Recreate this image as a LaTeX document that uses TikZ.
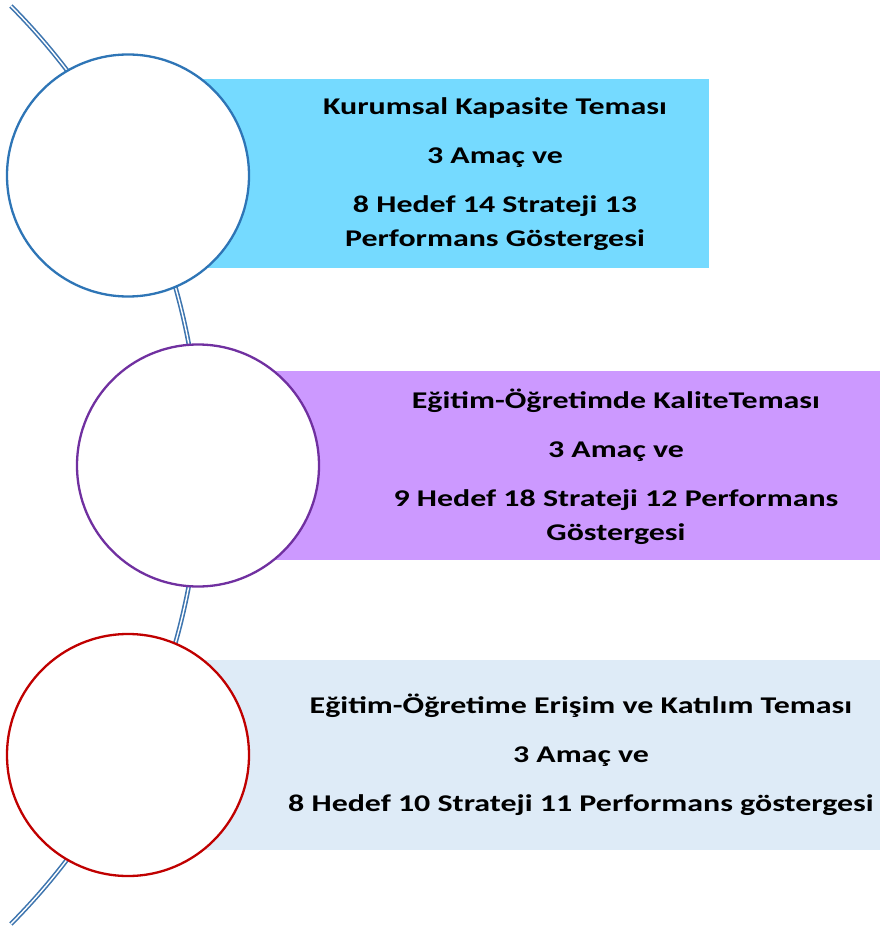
\documentclass[tikz,border=0pt]{standalone}
\usepackage{fontspec}
\setmainfont{Carlito}[FakeStretch=1.33]
\definecolor{arcblue}{RGB}{62,117,175}
\definecolor{cblue}{RGB}{46,117,182}
\definecolor{cpurple}{RGB}{112,48,160}
\definecolor{cred}{RGB}{192,0,0}
\definecolor{fillA}{RGB}{117,218,255}
\definecolor{fillB}{RGB}{204,153,255}
\definecolor{fillC}{RGB}{222,235,247}
\tikzset{
  disc/.style={circle, fill=white, line width=2.3pt, minimum size=242pt, inner sep=0pt},
  label/.style={align=center, font=\bfseries\fontsize{24}{34}\selectfont, text=black, inner sep=0pt},
  spine/.style={draw=arcblue, line width=1.6pt, double=white, double distance=1.4pt}
}
\begin{document}
\begin{tikzpicture}[x=1pt,y=-1pt]
\useasboundingbox (0,0) rectangle (880,928);
\fill[fillA] (200,79) rectangle (709,268);
\fill[fillB] (270,371) rectangle (880,560);
\fill[fillC] (200,660) rectangle (880,850);
\coordinate (ac) at (-451.4,465);
\draw[spine] (ac) ++(-44.8:651.5) arc[start angle=-44.8, end angle=44.8, radius=651.5];
\node[disc, draw=cblue] (c1) at (128,175.5) {};
\node[disc, draw=cpurple] (c2) at (198,465.5) {};
\node[disc, draw=cred] (c3) at (128,755) {};
\node[label] (t1) at (495,174) {Kurumsal Kapasite Teması\\[15pt]3 Amaç ve\\[15pt]8 Hedef 14 Strateji 13\\Performans Göstergesi};
\node[label] (t2) at (616,466.5) {Eğitim-Öğretimde KaliteTeması\\[15pt]3 Amaç ve\\[15pt]9 Hedef 18 Strateji 12 Performans\\Göstergesi};
\node[label] (t3) at (581,755) {Eğitim-Öğretime Erişim ve Katılım Teması\\[15pt]3 Amaç ve\\[15pt]8 Hedef 10 Strateji 11 Performans göstergesi};
\end{tikzpicture}
\end{document}
